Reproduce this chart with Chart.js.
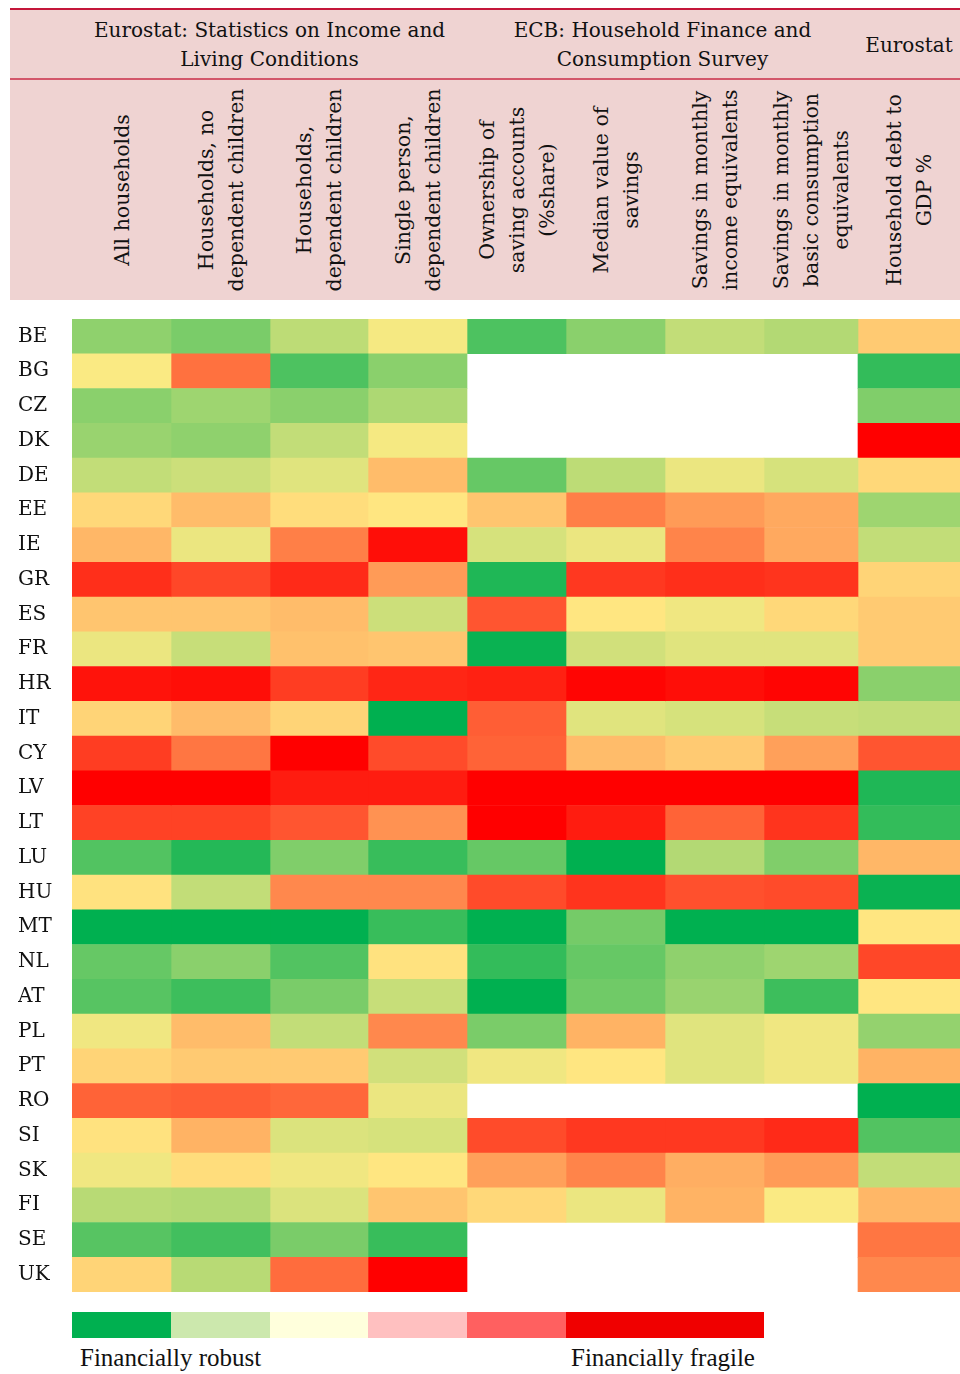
<!DOCTYPE html>
<html>
<head>
<meta charset="utf-8">
<script src="https://cdn.jsdelivr.net/npm/chart.js@4.4.1/dist/chart.umd.min.js"></script>
<style>
  html, body { margin: 0; padding: 0; background: #fff; }
  body { width: 960px; height: 1374px; position: relative; overflow: hidden; font-family: "DejaVu Serif", serif; color: #111; }
  #header { position: absolute; left: 10px; top: 10px; width: 950px; height: 290px; background: #efd3d2; }
  #topRule { position: absolute; left: 10px; top: 8px; width: 950px; height: 2px; background: #c4173a; }
  #midRule { position: absolute; left: 10px; top: 78px; width: 950px; height: 2px; background: #d3566a; }
  .group { position: absolute; top: 16px; transform: translateX(-50%); text-align: center; font-size: 20px; line-height: 29px; white-space: nowrap; }
  .group.single { top: 31px; }
  .colhead { position: absolute; top: 190px; transform: translate(-50%, -50%) rotate(-90deg); text-align: center; font-size: 20.5px; line-height: 30px; white-space: nowrap; }
  #heat { position: absolute; left: 0; top: 310px; }
  .swatch { position: absolute; top: 1312px; height: 26px; }
  .legendText { position: absolute; top: 1344px; font-family: "Liberation Serif", serif; font-size: 25px; }
</style>
</head>
<body>
<div id="header"></div>
<div id="topRule"></div>
<div id="midRule"></div>
<div id="labels"></div>
<canvas id="heat" width="960" height="992"></canvas>
<div id="legend"></div>
<script>
// Countries (rows) and indicator columns
const countries = ["BE", "BG", "CZ", "DK", "DE", "EE", "IE", "GR", "ES", "FR", "HR", "IT", "CY", "LV",
  "LT", "LU", "HU", "MT", "NL", "AT", "PL", "PT", "RO", "SI", "SK", "FI", "SE", "UK"];

const groupLabels = [
  { text: "Eurostat: Statistics on Income and<br>Living Conditions", from: 0, to: 4 },
  { text: "ECB: Household Finance and<br>Consumption Survey", from: 4, to: 8 },
  { text: "Eurostat", from: 8, to: 9 }
];

const columnLabels = [
  "All households",
  "Households, no<br>dependent children",
  "Households,<br>dependent children",
  "Single person,<br>dependent children",
  "Ownership of<br>saving accounts<br>(%share)",
  "Median value of<br>savings",
  "Savings in monthly<br>income equivalents",
  "Savings in monthly<br>basic consumption<br>equivalents",
  "Household debt to<br>GDP %"
];

// Fragility score per country: 0 = financially robust, 100 = financially fragile (null = no data)
const allHouseholds = [28, 49, 27, 30, 38, 54, 61, 90, 58, 46, 96, 55, 87, 100, 86, 16, 52, 0, 20, 17, 47, 55, 79, 52, 47, 36, 17, 55];
const noChildren = [24, 76, 31, 28, 40, 60, 46, 85, 58, 39, 97, 60, 75, 100, 86, 7, 38, 0, 27, 12, 60, 57, 80, 62, 53, 35, 13, 36];
const withChildren = [37, 15, 27, 38, 44, 53, 73, 91, 60, 59, 87, 55, 100, 94, 82, 25, 71, 0, 16, 24, 38, 57, 78, 43, 47, 43, 24, 77];
const singleParent = [48, 27, 34, 48, 60, 51, 97, 67, 40, 58, 92, 0, 84, 94, 69, 11, 71, 11, 52, 39, 71, 41, 46, 42, 51, 58, 11, 100];
const savingOwnership = [15, null, null, null, 20, 58, 42, 6, 82, 2, 93, 80, 79, 100, 100, 20, 84, 0, 10, 0, 24, 47, null, 84, 66, 54, null, null];
const medianSavings = [27, null, null, null, 37, 73, 46, 88, 51, 41, 99, 44, 60, 100, 94, 0, 89, 23, 20, 22, 62, 51, null, 88, 72, 46, null, null];
const savingsIncomeMonths = [38, null, null, null, 46, 67, 72, 90, 47, 44, 97, 42, 57, 100, 79, 35, 83, 0, 28, 30, 44, 44, null, 88, 63, 62, null, null];
const savingsConsumptionMonths = [35, null, null, null, 42, 64, 64, 89, 54, 44, 99, 39, 66, 100, 89, 25, 84, 0, 31, 12, 47, 47, null, 91, 67, 49, null, null];
const debtToGdp = [57, 10, 25, 100, 54, 31, 38, 55, 57, 57, 27, 38, 82, 6, 10, 61, 2, 51, 85, 51, 29, 62, 0, 16, 38, 61, 75, 71];

const columns = [allHouseholds, noChildren, withChildren, singleParent, savingOwnership,
  medianSavings, savingsIncomeMonths, savingsConsumptionMonths, debtToGdp];

// Legend steps
const legendColors = ["#00b050", "#cce8ad", "#ffffdc", "#ffc0c0", "#ff6060", "#f00000"];

// Layout: column edges in chart units (the x scale runs 0..888 across the plot)
const colEdges = [0, 99, 198, 296, 395, 494, 593, 692, 786, 888];
const plotLeft = 72;
const legendEdges = [72, 171, 270, 368, 467, 566, 764];

// Three-point colour scale green -> yellow -> red
const GREEN = [0, 176, 80], YELLOW = [255, 235, 132], RED = [255, 0, 0];
function scoreColor(v) {
    if (v === null) return "rgba(0,0,0,0)";
    let a, b, t;
    if (v <= 50) { a = GREEN; b = YELLOW; t = v / 50; }
    else { a = YELLOW; b = RED; t = (v - 50) / 50; }
    const c = a.map((x, i) => Math.round(x + (b[i] - x) * t));
    return `rgb(${c[0]},${c[1]},${c[2]})`;
}

// Header texts
const labelBox = document.getElementById("labels");
groupLabels.forEach(g => {
    const d = document.createElement("div");
    d.className = "group" + (g.to - g.from === 1 ? " single" : "");
    d.style.left = (plotLeft + (colEdges[g.from] + colEdges[g.to]) / 2) + "px";
    d.innerHTML = g.text;
    labelBox.appendChild(d);
});
columnLabels.forEach((t, j) => {
    const d = document.createElement("div");
    d.className = "colhead";
    d.style.left = (plotLeft + (colEdges[j] + colEdges[j + 1]) / 2) + "px";
    d.innerHTML = t;
    labelBox.appendChild(d);
});

// Legend
const legendBox = document.getElementById("legend");
legendColors.forEach((c, i) => {
    const s = document.createElement("div");
    s.className = "swatch";
    s.style.left = legendEdges[i] + "px";
    s.style.width = (legendEdges[i + 1] - legendEdges[i]) + "px";
    s.style.background = c;
    legendBox.appendChild(s);
});
[["Financially robust", 80], ["Financially fragile", 571]].forEach(([t, x]) => {
    const d = document.createElement("div");
    d.className = "legendText";
    d.style.left = x + "px";
    d.textContent = t;
    legendBox.appendChild(d);
});

// Heatmap: one floating horizontal bar per cell
const datasets = columns.map((vals, j) => ({
    data: vals.map(v => v === null ? null : [colEdges[j], colEdges[j + 1]]),
    backgroundColor: vals.map(scoreColor),
    borderWidth: 0,
    barPercentage: 1,
    categoryPercentage: 1,
    grouped: false
}));

const ctx = document.getElementById("heat").getContext("2d");
new Chart(ctx, {
    type: "bar",
    data: { labels: countries, datasets: datasets },
    options: {
        indexAxis: "y",
        responsive: false,
        animation: false,
        layout: { padding: { top: 9, bottom: 10, left: 18, right: 0 } },
        plugins: { legend: { display: false }, tooltip: { enabled: false } },
        scales: {
            x: { type: "linear", min: 0, max: 888, display: false },
            y: {
                grid: { display: false },
                border: { display: false },
                ticks: { color: "#111", padding: 0, crossAlign: "far", font: { family: "DejaVu Serif", size: 20 } },
                afterFit: s => { s.width = 54; s.paddingTop = 0; s.paddingBottom = 0; }
            }
        }
    }
});
</script>
</body>
</html>
